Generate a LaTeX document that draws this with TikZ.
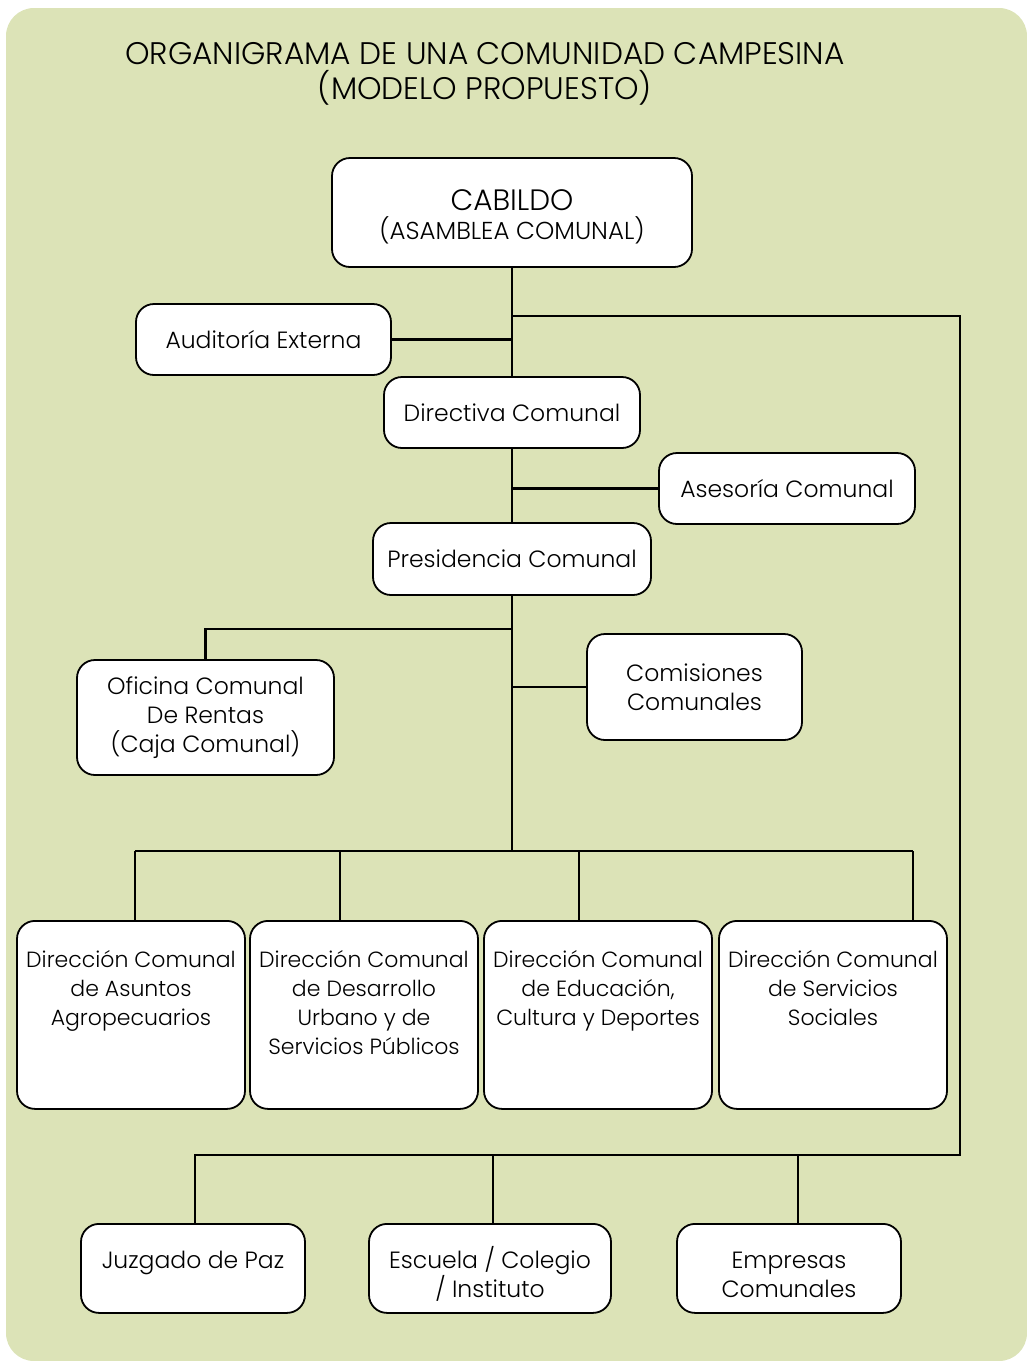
\documentclass[tikz,border=0pt]{standalone}
\usepackage{fontspec}
\setmainfont{Poppins}[UprightFont={* Light}]
\usetikzlibrary{calc}
\definecolor{fondo}{RGB}{220,227,183}
\tikzset{
  caja/.style={draw=black,fill=white,line width=1.8pt,rounded corners=18pt,
    font=\fontsize{23.5}{29}\selectfont,inner sep=0pt},
  cajacentro/.style={caja,align=center},
  cajadir/.style={caja,anchor=north,inner xsep=4pt,inner ysep=30pt,
    font=\fontsize{22}{29}\selectfont,
    execute at begin node={\begin{minipage}[t][128pt][t]{220pt}\centering},
    execute at end node={\end{minipage}}},
  cajabaja/.style={caja,anchor=north,inner xsep=4pt,inner ysep=22pt,
    execute at begin node={\begin{minipage}[t][45pt][t]{#1}\centering\vphantom{/}},
    execute at end node={\end{minipage}}},
  linea/.style={line width=2.4pt}
}
\begin{document}
\begin{tikzpicture}[x=1pt,y=-1pt]
  \useasboundingbox (0,0) rectangle (1027,1361);
  \fill[fondo,rounded corners=28pt] (6,8) rectangle (1027,1361);
  \node[align=center,font=\fontsize{31.2}{35}\selectfont] (titulo) at (485,74)
    {ORGANIGRAMA DE UNA COMUNIDAD CAMPESINA\\(MODELO PROPUESTO)};
  % niveles superiores
  \node[cajacentro,minimum width=360pt,minimum height=109pt] (cabildo) at (512,212.5)
    {{\fontsize{29.5}{31}\selectfont\rule{0pt}{30pt}CABILDO}\\{\fontsize{24.5}{31}\selectfont (ASAMBLEA COMUNAL)}};
  \node[cajacentro,minimum width=255pt,minimum height=71pt] (auditoria) at (263.5,339.5) {Auditoría Externa};
  \node[cajacentro,minimum width=256pt,minimum height=71pt] (directiva) at (512,412.5) {Directiva Comunal};
  \node[cajacentro,minimum width=256pt,minimum height=71pt] (asesoria) at (787,488.5) {Asesoría Comunal};
  \node[cajacentro,minimum width=278pt,minimum height=72pt] (presidencia) at (512,559) {Presidencia Comunal};
  \node[cajacentro,minimum width=257pt,minimum height=115pt] (oficina) at (205.5,717.5)
    {Oficina Comunal\\De Rentas\\(Caja Comunal)};
  \node[cajacentro,minimum width=215pt,minimum height=106pt] (comisiones) at (694.5,687)
    {Comisiones\\Comunales};
  % direcciones
  \node[cajadir] (dirAgro) at (131,920) {Dirección Comunal\\de Asuntos\\Agropecuarios};
  \node[cajadir] (dirUrbano) at (364,920) {Dirección Comunal\\de Desarrollo\\Urbano y de\\Servicios Públicos};
  \node[cajadir] (dirEduca) at (598,920) {Dirección Comunal\\de Educación,\\Cultura y Deportes};
  \node[cajadir] (dirSocial) at (833,920) {Dirección Comunal\\de Servicios\\Sociales};
  % nivel inferior
  \node[cajabaja=216pt] (juzgado) at (193,1223) {Juzgado de Paz};
  \node[cajabaja=234pt] (escuela) at (490,1223) {Escuela / Colegio\\/ Instituto};
  \node[cajabaja=216pt] (empresas) at (789,1223) {Empresas\\Comunales};
  % conexiones
  \coordinate (busDir) at (512,851);
  \coordinate (busBajo) at (960,1155);
  \draw[linea] (cabildo) -- (directiva);
  \draw[linea] (directiva) -- (presidencia);
  \draw[linea] (presidencia) -- (busDir);
  \draw[linea] (auditoria.east) -- (auditoria.east -| cabildo.south);
  \draw[linea] (asesoria.west) -- (asesoria.west -| directiva.south);
  \draw[linea] (comisiones.west) -- (comisiones.west -| presidencia.south);
  \draw[linea] (presidencia.south |- 0,629) -| (oficina.north);
  \draw[linea] (cabildo.south |- 0,316) -| (busBajo) -| ([xshift=2pt]juzgado.north);
  \draw[linea] ([xshift=3pt]escuela.north) -- ([xshift=3pt]escuela.north |- busBajo);
  \draw[linea] ([xshift=9pt]empresas.north) -- ([xshift=9pt]empresas.north |- busBajo);
  \draw[linea] ([xshift=4pt]dirAgro.north |- busDir) -- ([xshift=80pt]dirSocial.north |- busDir);
  \foreach \n/\s in {dirAgro/4,dirUrbano/-24,dirEduca/-19,dirSocial/80}
    \draw[linea] ([xshift=\s pt]\n.north) -- ([xshift=\s pt]\n.north |- busDir);
\end{tikzpicture}
\end{document}
